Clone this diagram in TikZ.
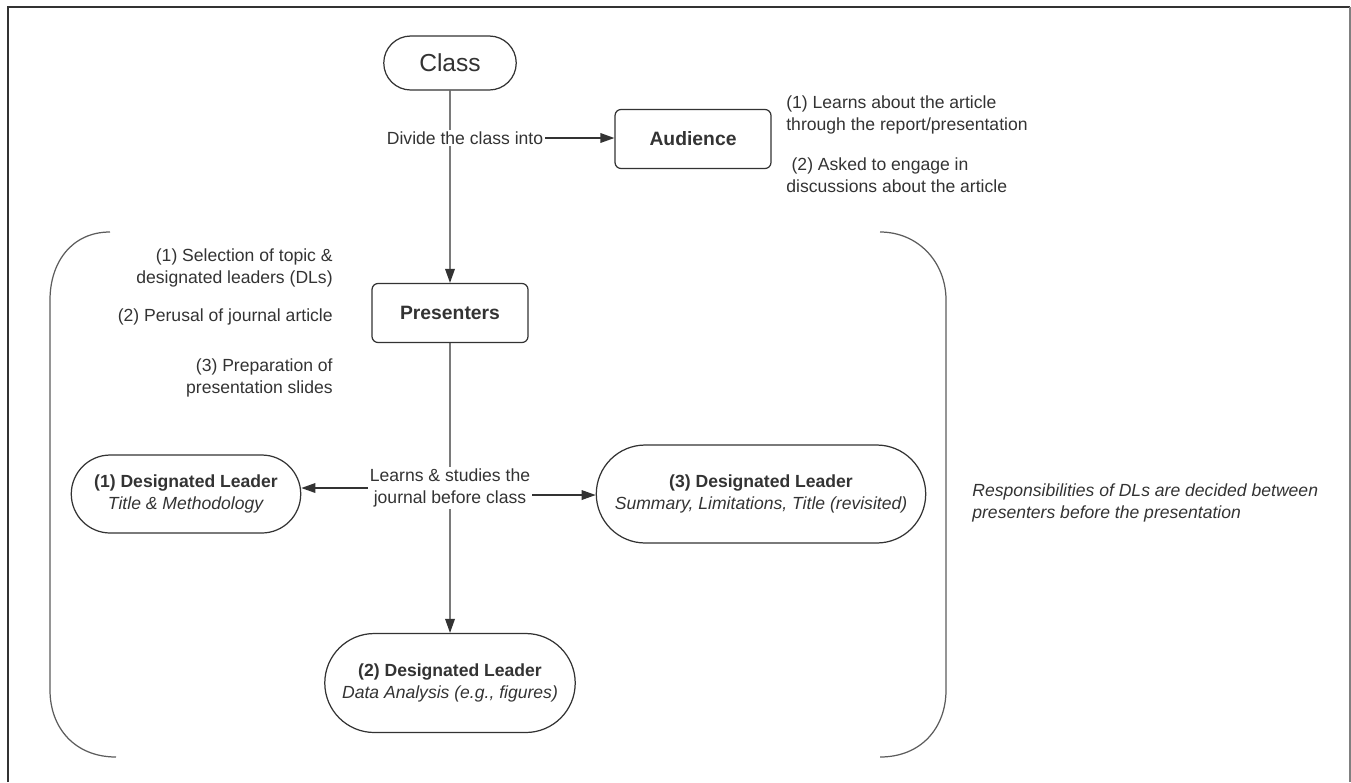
\documentclass[tikz,border=0pt]{standalone}
\usepackage{fontspec}
\setmainfont{Liberation Sans}
\usepackage{tikz}
\usetikzlibrary{positioning,shapes.misc,arrows.meta,calc}
\definecolor{ink}{HTML}{333333}

\begin{document}
\begin{tikzpicture}[
    x=0.02cm, y=-0.02cm,
    font=\fontsize{10}{12.5}\selectfont,
    text=ink,
    pill/.style={
        draw=ink,
        rounded rectangle,
        line width=0.7pt,
        align=center,
        inner sep=1pt
    },
    box/.style={
        draw=ink,
        rounded corners=1.2mm,
        line width=0.7pt,
        minimum width=3.12cm,
        minimum height=1.18cm,
        align=center,
        font=\fontsize{11}{13}\selectfont\bfseries
    },
    note/.style={
        align=left,
        anchor=west,
        inner sep=0pt
    },
    lab/.style={
        fill=white,
        align=center,
        inner sep=1pt
    },
    arr/.style={-{Triangle[length=8pt,width=5.5pt]}, draw=ink, line width=0.8pt},
    brace/.style={draw=ink!80, line width=0.7pt}
]
\useasboundingbox (0,0) rectangle (1351,782);

% frame
\draw[ink, line width=0.9pt] (8,782) -- (8,7) -- (1350,7);
\draw[gray, line width=0.9pt] (1350,7) -- (1350,782);

% top part
\node[pill, minimum width=2.72cm, minimum height=1.08cm,
      font=\fontsize{14}{16}\selectfont] (class) at (450,63) {Class};
\node[box] (audience) at (693,139) {Audience};
\node[box] (presenters) at (450,313) {Presenters};

\node[note] (audnote1) at (786,115)
{(1) Learns about the article\\through the report/presentation};
\node[note] (audnote2) at (786,175.5)
{\hspace{0.3em}(2) Asked to engage in\\discussions about the article};

% presenter tasks
\node[anchor=east, align=right, inner sep=0pt] (task1) at (333,267.5)
{(1) Selection of topic \&\\designated leaders (DLs)};
\node[anchor=east, align=right, inner sep=0pt] (task2) at (333,317)
{(2) Perusal of journal article};
\node[anchor=east, align=right, inner sep=0pt] (task3) at (333,377.5)
{(3) Preparation of\\presentation slides};

% designated leaders
\node[pill, minimum width=4.66cm, minimum height=1.56cm] (dlone) at (186,494)
{\textbf{(1) Designated Leader}\\\textit{Title \& Methodology}};
\node[pill, minimum width=6.66cm, minimum height=1.96cm] (dlthree) at (761,494)
{\textbf{(3) Designated Leader}\\\textit{Summary, Limitations, Title (revisited)}};
\node[pill, minimum width=5.08cm, minimum height=1.98cm] (dltwo) at (450,683)
{\textbf{(2) Designated Leader}\\\textit{Data Analysis (e.g., figures)}};

\node[note, font=\fontsize{10}{12.5}\selectfont\itshape] (resp) at (972,502.5)
{Responsibilities of DLs are decided between\\presenters before the presentation};

% connectors
\draw[arr] (class) -- (presenters);
\draw[arr] (presenters) -- (dltwo);
\node[lab] (divide) at (465,138) {Divide the class into};
\node[lab] (learns) at (450,488) {Learns \& studies the\\journal before class};
\draw[arr] (divide.east) -- (audience.west |- divide.east);
\draw[arr] (learns.west) -- (learns.west -| dlone.east);
\draw[arr] ([yshift=-4pt]learns.east) -- ([yshift=-4pt]learns.east -| dlthree.west);

% brackets
\draw[brace] (110,232) .. controls (72,232) and (50,262) .. (50,300)
    -- (50,690) .. controls (50,728) and (75,757) .. (116,757);
\draw[brace] (880,232) .. controls (918,232) and (946,262) .. (946,300)
    -- (946,690) .. controls (946,728) and (921,757) .. (880,757);

\end{tikzpicture}
\end{document}
